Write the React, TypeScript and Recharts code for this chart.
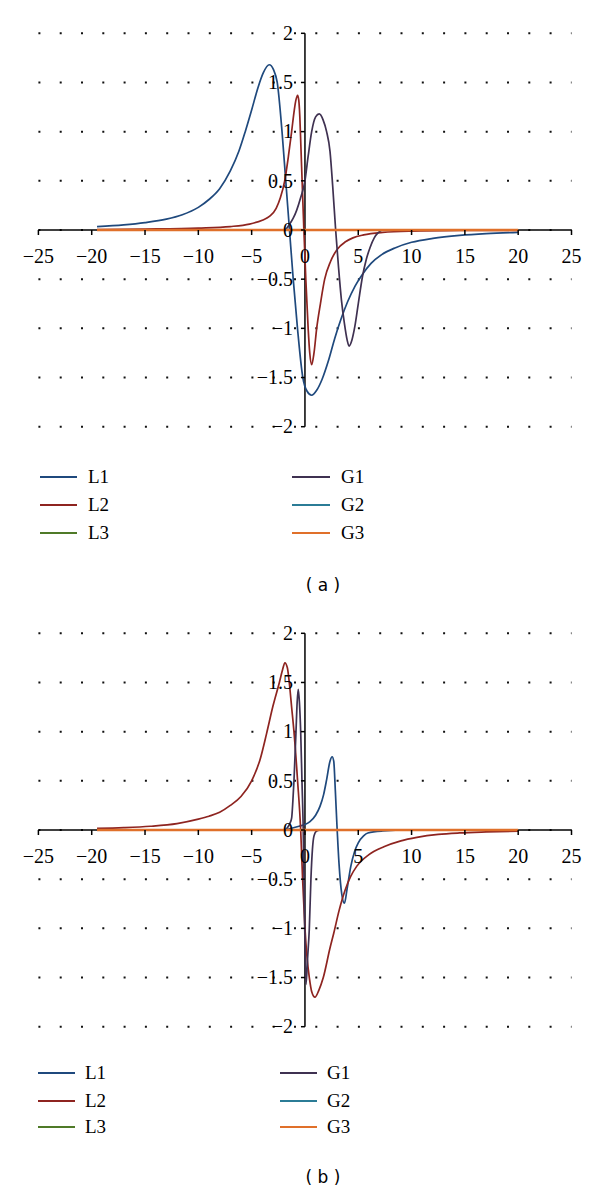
import { CartesianGrid, Line, LineChart, ReferenceLine, XAxis, YAxis } from "recharts";

type Pt = [number, number];

const X_TICKS = [-25, -20, -15, -10, -5, 0, 5, 10, 15, 20, 25];
const Y_TICKS = [-2, -1.5, -1, -0.5, 0, 0.5, 1, 1.5, 2];
const NAMES = ["L1", "L2", "L3", "G1", "G2", "G3"];
const COLORS = ["#1f497d", "#8e2420", "#4f7a28", "#3f3151", "#2b7c96", "#e0702a"];

// panel (a)
const A_L1: Pt[] = [
  [-19.5, 0.035], [-17, 0.052], [-15, 0.075], [-13, 0.11], [-11.5, 0.155], [-10, 0.23],
  [-9, 0.31], [-8, 0.42], [-7, 0.6], [-6.2, 0.8], [-5.6, 1.0], [-5, 1.22], [-4.4, 1.45],
  [-3.9, 1.6], [-3.35, 1.68], [-2.95, 1.63], [-2.6, 1.5], [-2.15, 1.0], [-1.8, 0.5],
  [-1.45, 0], [-1.1, -0.5], [-0.7, -1.0], [-0.2, -1.5], [0.2, -1.64], [0.63, -1.68],
  [1.1, -1.63], [1.6, -1.52], [2.2, -1.33], [2.8, -1.1], [3.4, -0.9], [4.0, -0.73],
  [4.7, -0.57], [5.4, -0.45], [6.2, -0.34], [7.2, -0.25], [8.5, -0.18], [10, -0.125],
  [12, -0.085], [14.5, -0.055], [17, -0.037], [20, -0.025],
];
const A_L2: Pt[] = [
  [-19.5, 0.005], [-15, 0.01], [-10, 0.02], [-7, 0.035], [-5.2, 0.06], [-4, 0.1],
  [-3.3, 0.14], [-2.7, 0.22], [-2.3, 0.33], [-1.9, 0.5], [-1.55, 0.75], [-1.25, 1.0],
  [-1.0, 1.22], [-0.85, 1.32], [-0.69, 1.37], [-0.58, 1.32], [-0.48, 1.15], [-0.38, 0.85],
  [-0.25, 0.45], [-0.1, 0], [0.08, -0.5], [0.3, -1.0], [0.45, -1.25], [0.63, -1.37],
  [0.85, -1.25], [1.1, -1.0], [1.45, -0.75], [1.85, -0.5], [2.4, -0.32], [3, -0.2],
  [3.8, -0.12], [4.5, -0.08], [5.5, -0.05], [7.3, -0.025], [10, -0.012], [15, -0.005],
  [20, -0.003],
];
const A_L3: Pt[] = [[-19.5, 0], [20, 0]];
const A_G1: Pt[] = [
  [-19.5, 0], [-1.9, 0], [-1.5, 0.05], [-1.1, 0.12], [-0.78, 0.2], [-0.4, 0.33], [0, 0.5],
  [0.3, 0.75], [0.63, 1.0], [1.0, 1.15], [1.34, 1.18], [1.7, 1.12], [2.03, 1.0],
  [2.35, 0.8], [2.6, 0.45], [2.88, 0], [3.15, -0.38], [3.42, -0.71], [3.7, -0.95],
  [3.96, -1.12], [4.14, -1.18], [4.4, -1.12], [4.68, -0.98], [5.0, -0.75], [5.4, -0.47],
  [5.75, -0.3], [6.1, -0.18], [6.5, -0.08], [6.85, -0.03], [7.3, 0], [20, 0],
];
const A_G2: Pt[] = [[-19.5, 0], [20, 0]];
const A_G3: Pt[] = [[-19.5, 0], [20, 0]];

// panel (b)
const B_L1: Pt[] = [
  [-19.5, 0], [-2, 0], [-1.5, 0.01], [-1, 0.025], [-0.5, 0.04], [0, 0.055], [0.47, 0.085],
  [1.0, 0.15], [1.41, 0.24], [1.75, 0.36], [2.03, 0.51], [2.35, 0.7], [2.55, 0.745],
  [2.7, 0.7], [2.85, 0.4], [3.0, 0.05], [3.2, -0.35], [3.45, -0.65], [3.7, -0.745],
  [3.95, -0.6], [4.3, -0.37], [4.65, -0.22], [5.0, -0.13], [5.5, -0.06], [5.9, -0.03],
  [7.3, -0.01], [9.7, 0], [20, 0],
];
const B_L2: Pt[] = [
  [-19.5, 0.016], [-17, 0.024], [-14.5, 0.038], [-12, 0.065], [-10, 0.11], [-9, 0.14],
  [-8, 0.18], [-7, 0.25], [-6, 0.34], [-5, 0.5], [-4.2, 0.72], [-3.6, 0.98], [-3.0, 1.26],
  [-2.4, 1.5], [-2.1, 1.63], [-1.88, 1.7], [-1.65, 1.65], [-1.47, 1.5], [-1.25, 1.25],
  [-1.03, 1.0], [-0.69, 0.5], [-0.4, 0], [-0.22, -0.5], [0, -1.0], [0.2, -1.3],
  [0.41, -1.5], [0.65, -1.65], [0.94, -1.7], [1.3, -1.63], [1.72, -1.5], [2.35, -1.2],
  [2.7, -1.05], [3.2, -0.82], [3.77, -0.61], [4.3, -0.47], [4.85, -0.37], [6, -0.25],
  [7.4, -0.17], [9, -0.11], [10.5, -0.075], [12.5, -0.045], [14.5, -0.03], [17, -0.02],
  [20, -0.012],
];
const B_L3: Pt[] = [[-19.5, 0], [20, 0]];
const B_G1: Pt[] = [
  [-19.5, 0], [-1.9, 0], [-1.6, 0.03], [-1.4, 0.07], [-1.25, 0.12], [-1.13, 0.3],
  [-1.03, 0.5], [-0.84, 1.0], [-0.73, 1.3], [-0.63, 1.43], [-0.52, 1.3], [-0.4, 1.0],
  [-0.28, 0.5], [-0.16, 0], [-0.05, -0.8], [0.1, -1.57], [0.25, -1.3], [0.41, -1.0],
  [0.56, -0.5], [0.7, -0.2], [0.85, -0.06], [1.1, -0.01], [1.5, 0], [20, 0],
];
const B_G2: Pt[] = [[-19.5, 0], [20, 0]];
const B_G3: Pt[] = [[-19.5, 0], [20, 0]];

const W = 600;
const CH = 440;
const PLOT_LEFT = 38.4;
const PLOT_RIGHT = 571.5;
const PLOT_TOP = 33.3;
const PLOT_BOTTOM = 426.7;
const X0 = PLOT_LEFT + (PLOT_RIGHT - PLOT_LEFT) / 2;
const Y0 = PLOT_TOP + (PLOT_BOTTOM - PLOT_TOP) / 2;

const SERIF = "'Liberation Serif', 'Times New Roman', serif";
const fmt = (v: number) => (v < 0 ? "\u2212" + Math.abs(v) : String(v));
const rows = (pts: Pt[]) => pts.map(([x, y]) => ({ x, y }));

const XTick = (props: any) => {
  const { x, payload } = props;
  return (
    <g>
      <line x1={x} x2={x} y1={Y0} y2={Y0 + 5} stroke="#000" strokeWidth={1.5} />
      <text x={x} y={Y0 + 33} textAnchor="middle" fontFamily={SERIF} fontSize={20} fill="#000">
        {fmt(payload.value)}
      </text>
    </g>
  );
};

const YTick = (props: any) => {
  const { y, payload } = props;
  return (
    <g>
      <line x1={X0 - 4} x2={X0} y1={y} y2={y} stroke="#000" strokeWidth={1.5} />
      <text x={X0 - 12} y={y + 6.7} textAnchor="end" fontFamily={SERIF} fontSize={20} fill="#000">
        {fmt(payload.value)}
      </text>
    </g>
  );
};

interface LegendPos {
  rowY: number[];
  left: [number, number, number];
  right: [number, number, number];
}

interface PanelProps {
  series: Pt[][];
  caption: string;
  legend: LegendPos;
  captionY: number;
}

function Panel({ series, caption, legend, captionY }: PanelProps) {
  return (
    <div style={{ position: "relative", width: W, height: 600 }}>
      <LineChart
        width={W}
        height={CH}
        margin={{ top: PLOT_TOP, right: W - PLOT_RIGHT, bottom: CH - PLOT_BOTTOM - 1, left: PLOT_LEFT - 1 }}
      >
        <CartesianGrid vertical={false} stroke="#111" strokeWidth={2} strokeDasharray="2 19.3" />
        <XAxis
          type="number"
          dataKey="x"
          domain={[-25, 25]}
          ticks={X_TICKS}
          interval={0}
          height={1}
          axisLine={false}
          tickLine={false}
          tick={XTick}
        />
        <YAxis
          type="number"
          domain={[-2, 2]}
          ticks={Y_TICKS}
          interval={0}
          width={1}
          axisLine={false}
          tickLine={false}
          tick={YTick}
        />
        <ReferenceLine y={0} stroke="#000" strokeWidth={1.5} />
        <ReferenceLine x={0} stroke="#000" strokeWidth={1.5} />
        {series.map((pts, i) => (
          <Line
            key={NAMES[i]}
            data={rows(pts)}
            dataKey="y"
            name={NAMES[i]}
            type="monotone"
            stroke={COLORS[i]}
            strokeWidth={i === 5 ? 2.4 : 1.7}
            dot={false}
            isAnimationActive={false}
          />
        ))}
      </LineChart>
      {NAMES.map((name, i) => {
        const col = i < 3 ? legend.left : legend.right;
        const y = legend.rowY[i % 3];
        return (
          <div key={name}>
            <div
              style={{
                position: "absolute",
                left: col[0],
                top: y - 1,
                width: col[1] - col[0],
                height: 2,
                background: COLORS[i],
              }}
            />
            <div
              style={{
                position: "absolute",
                left: col[2],
                top: y - 10,
                fontFamily: SERIF,
                fontSize: 19,
                lineHeight: "20px",
                color: "#000",
              }}
            >
              {name}
            </div>
          </div>
        );
      })}
      <div
        style={{
          position: "absolute",
          left: 0,
          width: 646,
          top: captionY - 10,
          textAlign: "center",
          fontFamily: "'DejaVu Sans', Verdana, sans-serif",
          fontSize: 17,
          lineHeight: "20px",
          color: "#000",
        }}
      >
        {caption}
      </div>
    </div>
  );
}

export default function App() {
  return (
    <div style={{ position: "absolute", left: 0, top: 0, width: W, height: 1194, background: "#fff" }}>
      <Panel
        series={[A_L1, A_L2, A_L3, A_G1, A_G2, A_G3]}
        caption="( a )"
        captionY={585}
        legend={{ rowY: [477, 505, 533], left: [39.5, 76.7, 88], right: [292, 330, 341] }}
      />
      <Panel
        series={[B_L1, B_L2, B_L3, B_G1, B_G2, B_G3]}
        caption="( b )"
        captionY={577}
        legend={{ rowY: [473, 501, 527], left: [38.4, 74.8, 85], right: [280, 316.5, 327] }}
      />
    </div>
  );
}
